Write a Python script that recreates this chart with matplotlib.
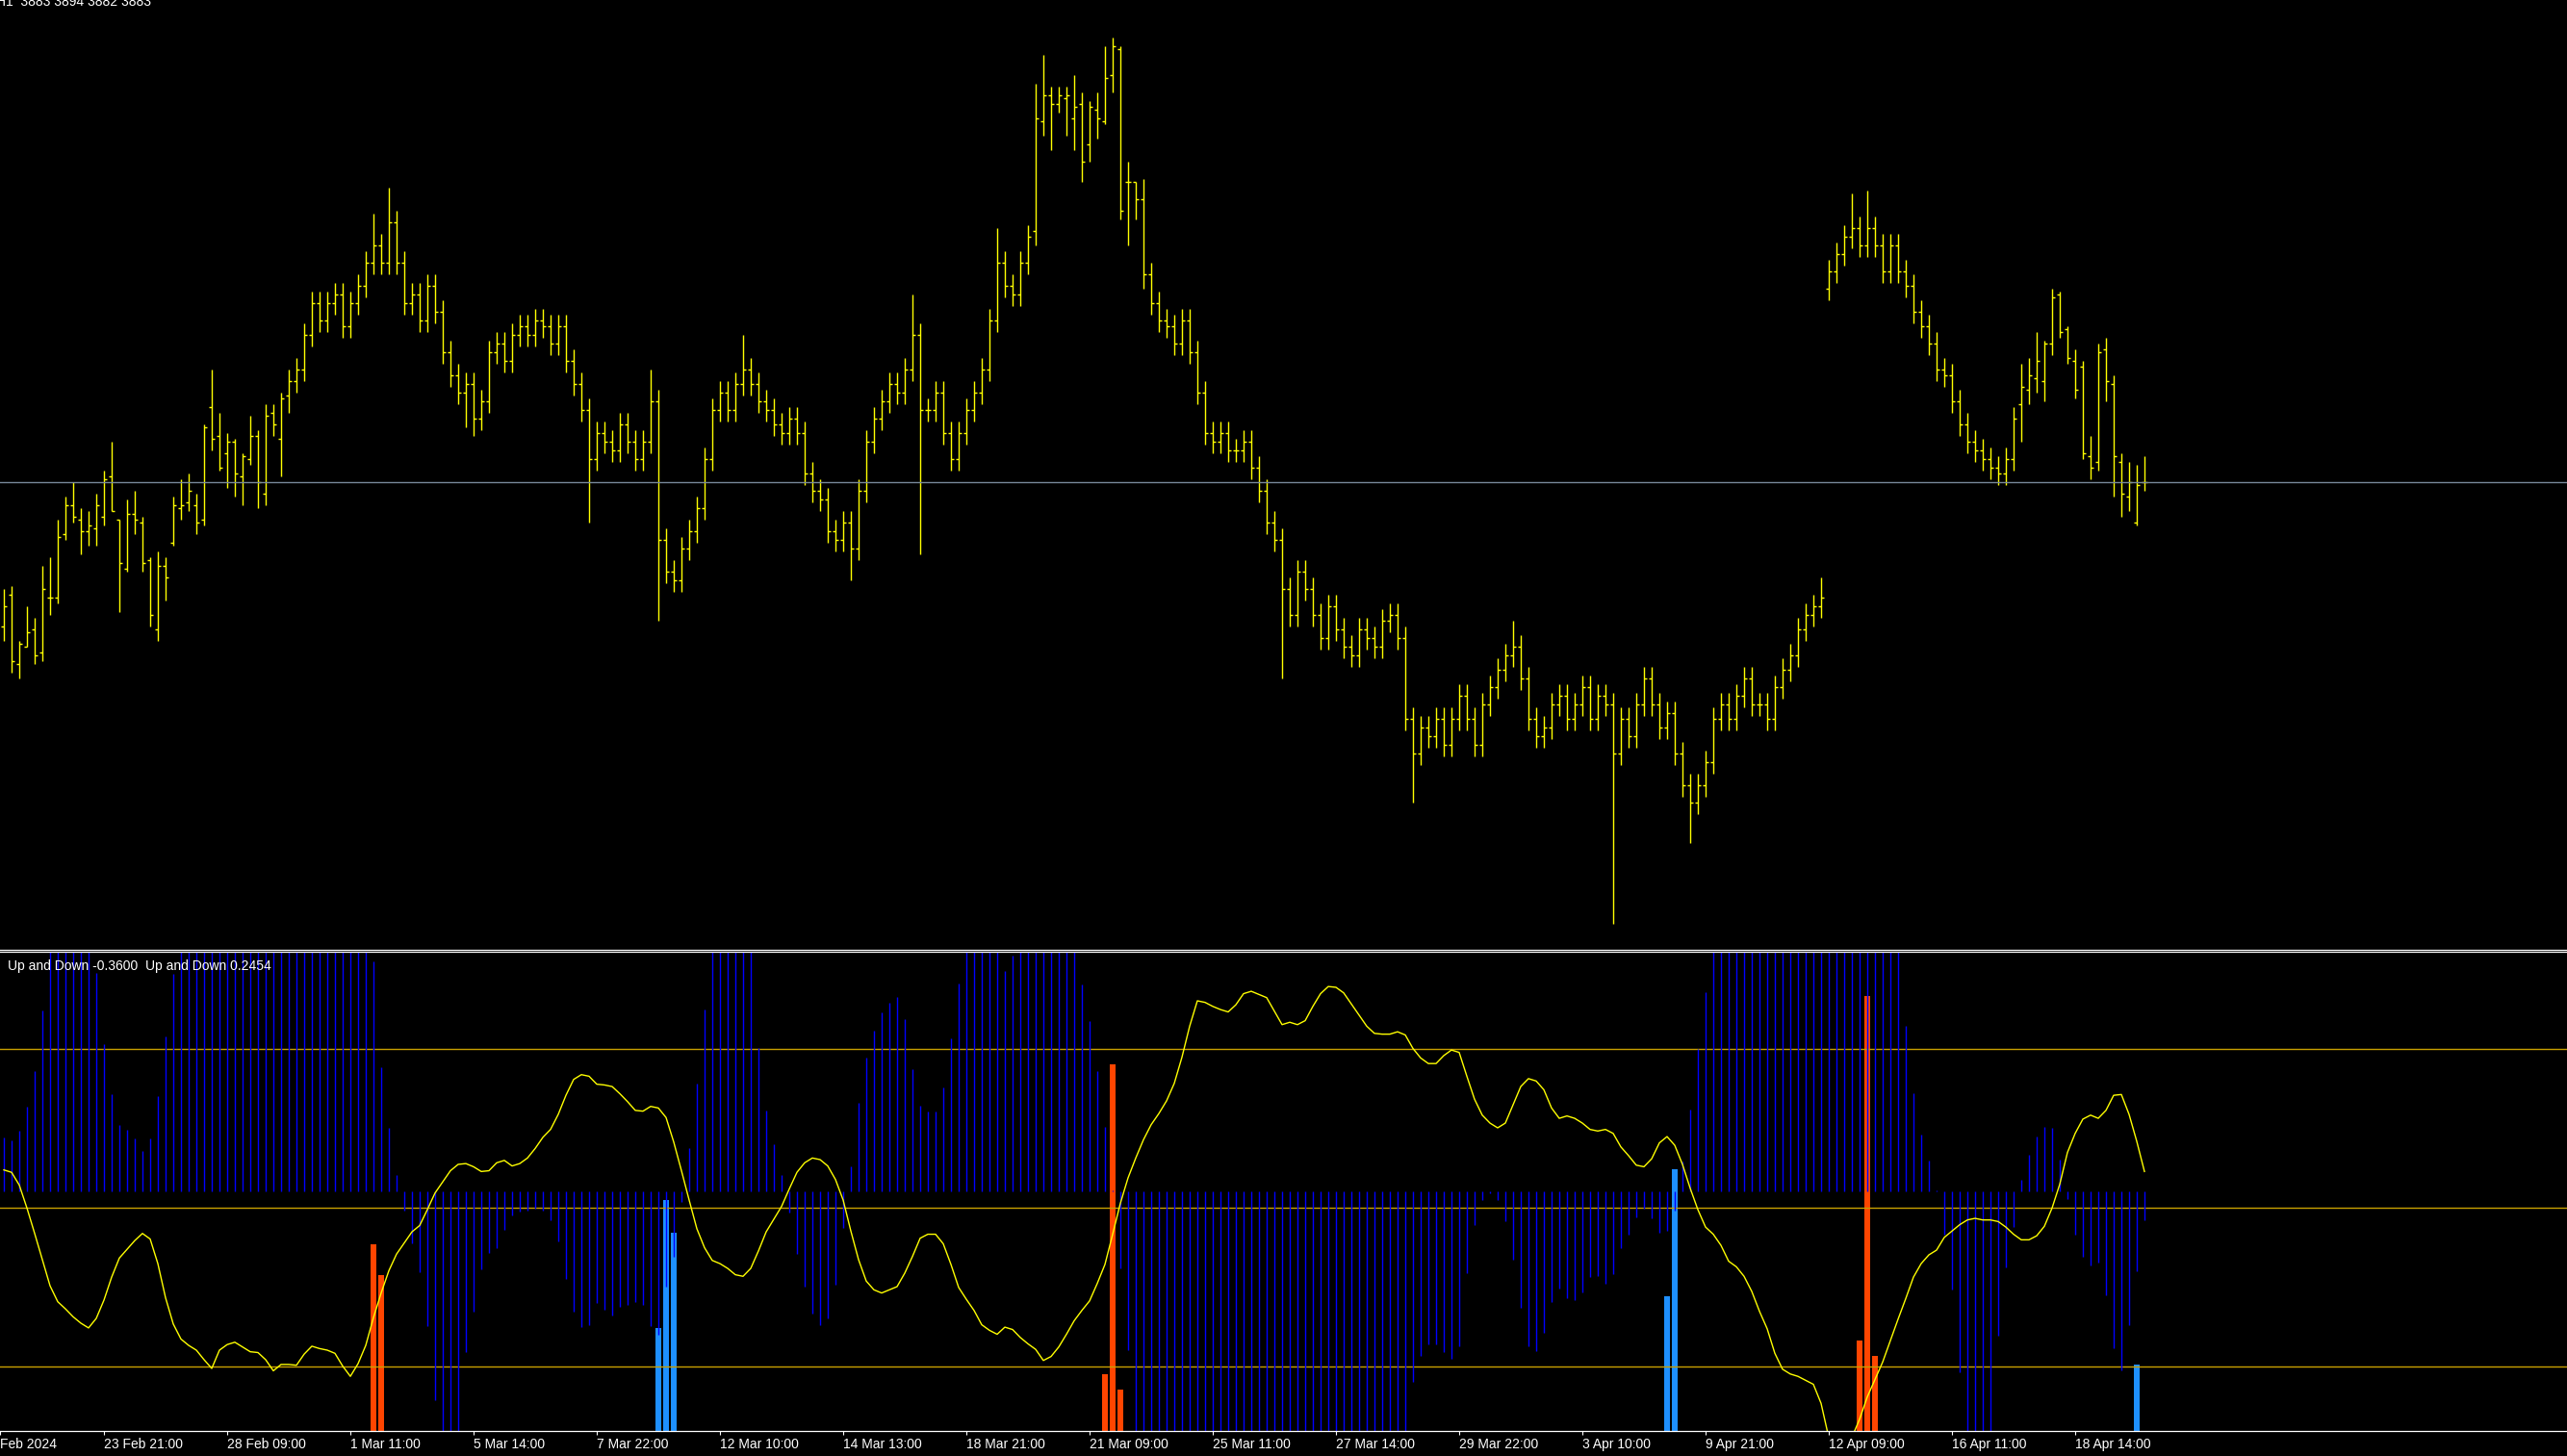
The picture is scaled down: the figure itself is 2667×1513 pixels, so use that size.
import matplotlib
matplotlib.use("Agg")
import numpy as np
import matplotlib.pyplot as plt

# price bars (one per hour bar, oldest first)
opens = [3833, 3844, 3820, 3826, 3832, 3824, 3843, 3843, 3865, 3875,
         3870, 3866, 3867, 3871, 3885, 3870, 3853, 3872, 3869, 3856,
         3832, 3854, 3862, 3874, 3876, 3875, 3870, 3909, 3899, 3893,
         3897, 3885, 3891, 3899, 3879, 3907, 3898, 3913, 3918, 3922,
         3934, 3945, 3939, 3945, 3948, 3937, 3945, 3951, 3959, 3965,
         3959, 3973, 3959, 3945, 3948, 3939, 3951, 3942, 3928, 3920,
         3914, 3917, 3905, 3911, 3928, 3931, 3925, 3934, 3937, 3934,
         3939, 3937, 3931, 3937, 3925, 3917, 3908, 3891, 3900, 3897,
         3894, 3903, 3897, 3891, 3897, 3911, 3863, 3852, 3849, 3860,
         3866, 3874, 3891, 3908, 3914, 3908, 3917, 3922, 3917, 3911,
         3908, 3903, 3900, 3905, 3900, 3886, 3880, 3877, 3866, 3863,
         3869, 3860, 3880, 3897, 3905, 3911, 3917, 3914, 3922, 3934,
         3908, 3908, 3914, 3900, 3891, 3900, 3908, 3914, 3922, 3939,
         3959, 3951, 3948, 3959, 3970, 4008, 4017, 4014, 4016, 4009,
         4014, 4000, 4012, 4008, 4024, 4033, 3987, 3987, 3981, 3955,
         3945, 3939, 3937, 3931, 3939, 3928, 3914, 3900, 3897, 3900,
         3894, 3894, 3897, 3888, 3880, 3869, 3863, 3846, 3837, 3852,
         3846, 3837, 3829, 3840, 3832, 3826, 3823, 3832, 3829, 3826,
         3835, 3837, 3829, 3801, 3789, 3798, 3795, 3801, 3792, 3801,
         3809, 3801, 3792, 3806, 3812, 3818, 3823, 3826, 3815, 3801,
         3795, 3798, 3806, 3809, 3801, 3806, 3812, 3801, 3809, 3806,
         3789, 3801, 3795, 3806, 3815, 3806, 3798, 3803, 3789, 3778,
         3772, 3778, 3786, 3801, 3806, 3801, 3809, 3815, 3806, 3806,
         3801, 3812, 3818, 3823, 3832, 3837, 3840, 3950, 3956, 3962,
         3968, 3971, 3965, 3971, 3965, 3956, 3965, 3956, 3951, 3942,
         3937, 3931, 3922, 3920, 3911, 3903, 3897, 3894, 3891, 3888,
         3886, 3891, 3910, 3915, 3919, 3918, 3931, 3948, 3936, 3925,
         3923, 3892, 3890, 3929, 3917, 3890, 3878, 3869, 3883]
highs = [3846, 3847, 3828, 3840, 3836, 3854, 3857, 3870, 3878, 3883,
         3874, 3873, 3879, 3887, 3897, 3870, 3877, 3880, 3871, 3857,
         3859, 3857, 3878, 3884, 3886, 3879, 3903, 3922, 3907, 3900,
         3898, 3893, 3906, 3901, 3910, 3910, 3914, 3922, 3926, 3938,
         3949, 3949, 3949, 3952, 3952, 3949, 3955, 3963, 3976, 3969,
         3985, 3977, 3963, 3952, 3952, 3955, 3955, 3946, 3932, 3924,
         3921, 3921, 3915, 3932, 3935, 3935, 3938, 3941, 3941, 3943,
         3943, 3941, 3941, 3941, 3929, 3921, 3912, 3904, 3904, 3901,
         3907, 3907, 3901, 3901, 3922, 3915, 3867, 3856, 3864, 3870,
         3878, 3895, 3912, 3918, 3918, 3921, 3934, 3926, 3921, 3915,
         3912, 3907, 3909, 3909, 3904, 3890, 3884, 3881, 3870, 3873,
         3873, 3884, 3901, 3909, 3915, 3921, 3921, 3926, 3948, 3938,
         3912, 3918, 3918, 3904, 3904, 3912, 3918, 3926, 3943, 3971,
         3963, 3955, 3963, 3972, 4021, 4031, 4020, 4020, 4020, 4024,
         4018, 4015, 4018, 4034, 4037, 4034, 3994, 3987, 3988, 3959,
         3949, 3943, 3941, 3943, 3943, 3932, 3918, 3904, 3904, 3904,
         3898, 3901, 3901, 3892, 3884, 3873, 3867, 3850, 3856, 3856,
         3850, 3841, 3844, 3844, 3836, 3830, 3836, 3836, 3833, 3839,
         3841, 3841, 3833, 3805, 3802, 3802, 3805, 3805, 3805, 3813,
         3813, 3805, 3810, 3816, 3822, 3827, 3835, 3830, 3819, 3805,
         3802, 3810, 3813, 3813, 3810, 3816, 3816, 3813, 3813, 3810,
         3805, 3805, 3810, 3819, 3819, 3810, 3807, 3807, 3793, 3782,
         3782, 3790, 3805, 3810, 3810, 3813, 3819, 3819, 3810, 3810,
         3816, 3822, 3827, 3836, 3841, 3844, 3850, 3960, 3966, 3972,
         3983, 3975, 3984, 3975, 3969, 3969, 3969, 3960, 3955, 3946,
         3941, 3935, 3926, 3924, 3915, 3907, 3901, 3898, 3895, 3892,
         3895, 3909, 3924, 3926, 3935, 3932, 3950, 3949, 3937, 3929,
         3925, 3899, 3931, 3933, 3920, 3893, 3890, 3889, 3892]
lows = [3828, 3817, 3815, 3826, 3820, 3821, 3837, 3841, 3863, 3869,
        3858, 3861, 3861, 3868, 3873, 3838, 3852, 3865, 3852, 3833,
        3828, 3842, 3861, 3870, 3873, 3865, 3868, 3894, 3887, 3881,
        3878, 3875, 3889, 3874, 3875, 3899, 3885, 3907, 3914, 3918,
        3930, 3935, 3935, 3941, 3933, 3933, 3941, 3947, 3955, 3955,
        3955, 3955, 3941, 3941, 3935, 3935, 3938, 3924, 3916, 3910,
        3902, 3899, 3901, 3907, 3924, 3921, 3921, 3930, 3930, 3930,
        3933, 3927, 3927, 3921, 3913, 3904, 3869, 3887, 3893, 3890,
        3890, 3893, 3887, 3887, 3893, 3835, 3848, 3845, 3845, 3856,
        3862, 3870, 3887, 3904, 3904, 3904, 3913, 3913, 3907, 3904,
        3899, 3896, 3896, 3896, 3882, 3876, 3873, 3862, 3859, 3859,
        3849, 3856, 3876, 3893, 3901, 3907, 3910, 3910, 3918, 3858,
        3904, 3904, 3896, 3887, 3887, 3896, 3904, 3910, 3918, 3935,
        3947, 3944, 3944, 3955, 3965, 4003, 3998, 4011, 4003, 3998,
        3987, 3994, 4002, 4007, 4018, 3974, 3965, 3974, 3950, 3941,
        3935, 3933, 3927, 3927, 3924, 3910, 3896, 3893, 3893, 3890,
        3890, 3890, 3884, 3876, 3865, 3859, 3815, 3833, 3833, 3842,
        3833, 3825, 3825, 3828, 3822, 3819, 3819, 3825, 3822, 3822,
        3831, 3825, 3797, 3772, 3785, 3791, 3791, 3788, 3788, 3797,
        3797, 3788, 3788, 3802, 3808, 3814, 3819, 3811, 3797, 3791,
        3791, 3794, 3802, 3797, 3797, 3802, 3797, 3797, 3802, 3730,
        3785, 3791, 3791, 3802, 3802, 3794, 3794, 3785, 3774, 3758,
        3768, 3774, 3782, 3797, 3797, 3797, 3805, 3802, 3802, 3797,
        3797, 3808, 3814, 3819, 3828, 3833, 3836, 3946, 3952, 3958,
        3964, 3961, 3961, 3961, 3952, 3952, 3952, 3947, 3938, 3933,
        3927, 3918, 3916, 3907, 3899, 3893, 3890, 3887, 3884, 3882,
        3882, 3887, 3897, 3910, 3914, 3911, 3927, 3933, 3924, 3912,
        3891, 3884, 3887, 3911, 3878, 3871, 3873, 3868, 3880]
closes = [3840, 3821, 3827, 3831, 3823, 3846, 3843, 3864, 3875, 3871,
          3866, 3868, 3875, 3884, 3873, 3855, 3872, 3870, 3855, 3837,
          3854, 3850, 3875, 3875, 3880, 3869, 3902, 3898, 3888, 3897,
          3886, 3892, 3899, 3883, 3906, 3903, 3912, 3918, 3922, 3934,
          3945, 3939, 3945, 3948, 3937, 3945, 3951, 3959, 3965, 3959,
          3973, 3959, 3945, 3948, 3939, 3951, 3942, 3928, 3920, 3914,
          3917, 3905, 3911, 3928, 3931, 3925, 3934, 3937, 3934, 3939,
          3937, 3931, 3937, 3925, 3917, 3908, 3891, 3900, 3897, 3894,
          3903, 3897, 3891, 3897, 3911, 3863, 3852, 3849, 3860, 3866,
          3874, 3891, 3908, 3914, 3908, 3917, 3922, 3917, 3911, 3908,
          3903, 3900, 3905, 3900, 3886, 3880, 3877, 3866, 3863, 3869,
          3860, 3880, 3897, 3905, 3911, 3917, 3914, 3922, 3934, 3908,
          3908, 3914, 3900, 3891, 3900, 3908, 3914, 3922, 3939, 3959,
          3951, 3948, 3959, 3968, 4009, 4017, 4014, 4017, 4017, 4013,
          3994, 4013, 4009, 4023, 4034, 3977, 3987, 3981, 3955, 3945,
          3939, 3937, 3931, 3939, 3928, 3914, 3900, 3897, 3900, 3894,
          3894, 3897, 3888, 3880, 3869, 3863, 3846, 3837, 3852, 3846,
          3837, 3829, 3840, 3832, 3826, 3823, 3832, 3829, 3826, 3835,
          3837, 3829, 3801, 3789, 3798, 3795, 3801, 3792, 3801, 3809,
          3801, 3792, 3806, 3812, 3818, 3823, 3826, 3815, 3801, 3795,
          3798, 3806, 3809, 3801, 3806, 3812, 3801, 3809, 3806, 3789,
          3801, 3795, 3806, 3815, 3806, 3798, 3803, 3789, 3778, 3772,
          3778, 3786, 3801, 3806, 3801, 3809, 3815, 3806, 3806, 3801,
          3812, 3818, 3823, 3832, 3837, 3840, 3843, 3956, 3962, 3968,
          3971, 3965, 3971, 3965, 3956, 3965, 3956, 3951, 3942, 3937,
          3931, 3922, 3920, 3911, 3903, 3897, 3894, 3891, 3888, 3886,
          3891, 3905, 3916, 3920, 3925, 3931, 3947, 3935, 3926, 3915,
          3893, 3888, 3928, 3918, 3892, 3879, 3883, 3882, 3883]

# "Up and Down" indicator: histogram buffer and signal line
updown_hist = [0.68, 0.64, 0.76, 1.07, 1.51, 2.28, 3.5, 3.5, 3.5, 3.5,
               3.5, 3.5, 2.75, 1.85, 1.23, 0.84, 0.77, 0.67, 0.51, 0.67,
               1.20, 1.95, 2.74, 3.5, 3.5, 3.5, 3.5, 3.5, 3.5, 3.5,
               3.5, 3.5, 3.5, 3.5, 3.5, 3.5, 3.5, 3.5, 3.5, 3.5,
               3.5, 3.5, 3.5, 3.5, 3.5, 3.5, 3.5, 3.5, 2.90, 1.56,
               0.80, 0.20, -0.24, -0.65, -1.02, -1.70, -2.63, -3.5, -3.5, -3.5,
               -2.03, -1.51, -0.98, -0.77, -0.71, -0.49, -0.30, -0.26, -0.24, -0.22,
               -0.24, -0.36, -0.63, -1.10, -1.52, -1.71, -1.68, -1.41, -1.49, -1.56,
               -1.46, -1.43, -1.39, -1.43, -1.70, -1.80, -1.20, -0.83, -0.13, 0.55,
               1.36, 2.29, 3.5, 3.5, 3.5, 3.5, 3.5, 3.5, 1.80, 1.02,
               0.59, 0.20, -0.27, -0.79, -1.20, -1.54, -1.68, -1.60, -1.17, -0.46,
               0.32, 1.12, 1.68, 2.02, 2.25, 2.38, 2.45, 2.17, 1.54, 1.08,
               1.01, 1.01, 1.31, 1.93, 2.62, 3.5, 3.5, 3.5, 3.5, 3.5,
               2.78, 2.97, 3.5, 3.5, 3.5, 3.5, 3.5, 3.5, 3.5, 3.5,
               2.61, 2.14, 1.52, 0.81, 0.01, -0.97, -2.00, -3.5, -3.5, -3.5,
               -3.5, -3.5, -3.5, -3.5, -3.5, -3.5, -3.5, -3.5, -3.5, -3.5,
               -3.5, -3.5, -3.5, -3.5, -3.5, -3.5, -3.5, -3.5, -3.5, -3.5,
               -3.5, -3.5, -3.5, -3.5, -3.5, -3.5, -3.5, -3.5, -3.5, -3.5,
               -3.5, -3.5, -3.5, -2.40, -2.07, -1.93, -1.93, -2.03, -2.11, -1.95,
               -1.03, -0.43, -0.11, -0.03, -0.11, -0.38, -0.86, -1.47, -1.95, -2.01,
               -1.78, -1.39, -1.23, -1.35, -1.37, -1.27, -1.08, -1.07, -1.16, -1.04,
               -0.72, -0.55, -0.33, -0.22, -0.34, -0.52, -0.50, -0.24, 0.38, 1.03,
               1.79, 2.51, 3.5, 3.5, 3.5, 3.5, 3.5, 3.5, 3.5, 3.5,
               3.5, 3.5, 3.5, 3.5, 3.5, 3.5, 3.5, 3.5, 3.5, 3.5,
               3.5, 3.5, 3.5, 3.5, 3.5, 3.5, 3.5, 2.09, 1.24, 0.72,
               0.39, 0.01, -0.55, -1.24, -2.28, -3.5, -3.5, -3.5, -3.5, -1.82,
               -0.96, -0.45, 0.15, 0.46, 0.69, 0.81, 0.80, 0.40, -0.10, -0.54,
               -0.83, -0.93, -0.90, -1.31, -1.98, -2.26, -1.69, -1.00, -0.36]
updown_line = [0.27, 0.24, 0.08, -0.21, -0.53, -0.86, -1.19, -1.39, -1.48, -1.58,
               -1.66, -1.72, -1.60, -1.37, -1.08, -0.84, -0.73, -0.62, -0.53, -0.60,
               -0.91, -1.34, -1.67, -1.86, -1.94, -2.00, -2.12, -2.23, -2.00, -1.93,
               -1.90, -1.96, -2.02, -2.03, -2.12, -2.26, -2.18, -2.18, -2.19, -2.05,
               -1.95, -1.98, -2.00, -2.04, -2.20, -2.33, -2.17, -1.94, -1.59, -1.28,
               -1.00, -0.79, -0.65, -0.51, -0.43, -0.23, -0.02, 0.12, 0.26, 0.34,
               0.35, 0.31, 0.25, 0.26, 0.36, 0.39, 0.32, 0.35, 0.42, 0.54,
               0.68, 0.78, 0.97, 1.21, 1.41, 1.47, 1.45, 1.35, 1.34, 1.32,
               1.23, 1.13, 1.02, 1.01, 1.07, 1.05, 0.93, 0.62, 0.26, -0.11,
               -0.47, -0.71, -0.87, -0.91, -0.97, -1.05, -1.07, -0.97, -0.75, -0.51,
               -0.35, -0.19, 0.03, 0.24, 0.36, 0.42, 0.40, 0.32, 0.15, -0.11,
               -0.50, -0.86, -1.13, -1.24, -1.28, -1.24, -1.20, -1.03, -0.82, -0.59,
               -0.54, -0.54, -0.66, -0.92, -1.21, -1.36, -1.50, -1.68, -1.75, -1.80,
               -1.71, -1.74, -1.84, -1.92, -1.99, -2.13, -2.08, -1.96, -1.80, -1.63,
               -1.50, -1.38, -1.16, -0.92, -0.54, -0.15, 0.17, 0.42, 0.65, 0.84,
               0.98, 1.14, 1.36, 1.69, 2.08, 2.40, 2.38, 2.33, 2.29, 2.26,
               2.35, 2.49, 2.52, 2.48, 2.44, 2.27, 2.10, 2.13, 2.10, 2.15,
               2.33, 2.49, 2.58, 2.57, 2.50, 2.36, 2.22, 2.08, 1.99, 1.98,
               1.98, 2.01, 1.97, 1.80, 1.68, 1.61, 1.61, 1.71, 1.78, 1.75,
               1.45, 1.16, 0.96, 0.86, 0.80, 0.86, 1.09, 1.32, 1.42, 1.39,
               1.28, 1.05, 0.92, 0.95, 0.92, 0.86, 0.78, 0.76, 0.78, 0.73,
               0.56, 0.45, 0.33, 0.31, 0.41, 0.61, 0.69, 0.58, 0.34, 0.04,
               -0.23, -0.45, -0.54, -0.68, -0.88, -0.95, -1.07, -1.26, -1.51, -1.73,
               -2.04, -2.24, -2.30, -2.33, -2.38, -2.43, -2.67, -3.10, -3.45, -3.45,
               -3.10, -2.87, -2.59, -2.37, -2.15, -1.88, -1.61, -1.35, -1.08, -0.91,
               -0.80, -0.74, -0.58, -0.50, -0.42, -0.36, -0.34, -0.36, -0.36, -0.38,
               -0.45, -0.54, -0.61, -0.61, -0.56, -0.44, -0.21, 0.09, 0.49, 0.73,
               0.91, 0.96, 0.92, 1.02, 1.21, 1.22, 0.97, 0.63, 0.25]

# signal bars drawn up from the bottom of the window
sell_bars = [48, 49, 143, 144, 145, 241, 242, 243]
sell_tops = [-0.67, -1.05, -2.30, 1.60, -2.50, -1.88, 2.46, -2.07]
buy_bars = [85, 86, 87, 216, 217, 277]
buy_tops = [-1.72, -0.11, -0.52, -1.32, 0.28, -2.18]
levels = [1.79, -0.21, -2.21]

tick_bars = [13, 29, 45, 61, 77, 93, 109, 125, 141, 157, 173, 189, 205, 221, 237, 253, 269]
tick_labels = ["23 Feb 21:00", "28 Feb 09:00", "1 Mar 11:00", "5 Mar 14:00", "7 Mar 22:00",
               "12 Mar 10:00", "14 Mar 13:00", "18 Mar 21:00", "21 Mar 09:00", "25 Mar 11:00",
               "27 Mar 14:00", "29 Mar 22:00", "3 Apr 10:00", "9 Apr 21:00", "12 Apr 09:00",
               "16 Apr 11:00", "18 Apr 14:00"]

n = len(closes)
for name, arr in [("opens", opens), ("highs", highs), ("lows", lows),
                  ("hist", updown_hist), ("line", updown_line)]:
    if len(arr) != n:
        raise ValueError(f"{name} has {len(arr)} values, closes has {n}")

plt.rcParams['font.family'] = ['Liberation Sans', 'DejaVu Sans']

W, H = 2667, 1513
fig = plt.figure(figsize=(W / 100, H / 100), dpi=100, facecolor='black')

# bar i sits at pixel 4 + 8*i
x_left = (0 - 4) / 8.0
x_right = (W - 4) / 8.0
x = np.arange(n)

# main price window
ax = fig.add_axes([0, 1 - 987 / H, 1, 987 / H])
ax.set_facecolor('black')
ax.set_xlim(x_left, x_right)
ax.set_ylim(3721, 4050)
ax.vlines(x, lows, highs, color='#ffff00', lw=1.0)
ax.hlines(opens, x - 0.4, x, color='#ffff00', lw=1.0)
ax.hlines(closes, x, x + 0.4, color='#ffff00', lw=1.0)
ax.axhline(closes[-1], color='#778899', lw=1.0)
ax.set_xticks([])
ax.set_yticks([])
for side in ['top', 'left', 'right']:
    ax.spines[side].set_visible(False)
ax.spines['bottom'].set_color('white')
ax.spines['bottom'].set_linewidth(0.9)

# indicator window
ax2 = fig.add_axes([0, 1 - 1487 / H, 1, 498 / H])
ax2.set_facecolor('black')
ax2.set_xlim(x_left, x_right)
ax2.set_ylim(-3.018, 3.018)
for lv in levels:
    ax2.axhline(lv, color='#c8a000', lw=1.0)
ax2.vlines(x, 0, updown_hist, color='#0000ff', lw=1.0)
ax2.bar(sell_bars, np.array(sell_tops) + 3.5, bottom=-3.5, width=0.85,
        color='#ff4500', linewidth=0)
ax2.bar(buy_bars, np.array(buy_tops) + 3.5, bottom=-3.5, width=0.85,
        color='#1e90ff', linewidth=0)
ax2.plot(x, updown_line, color='#ffff00', lw=1.0)

ax2.set_yticks([])
ax2.set_xticks([x_left + 0.01] + tick_bars)
ax2.set_xticklabels(["Feb 2024"] + tick_labels, ha='left')
ax2.tick_params(axis='x', colors='white', direction='out', length=3, width=0.8,
                pad=2, labelsize=10)
for side in ['left', 'right']:
    ax2.spines[side].set_visible(False)
for side in ['top', 'bottom']:
    ax2.spines[side].set_color('white')
    ax2.spines[side].set_linewidth(0.9)

fig.text(-3.5 / W, 1 - 6 / H, "H1  3883 3894 3882 3883", color='white',
         fontsize=10, va='baseline', ha='left')
fig.text(8 / W, 1 - 1004 / H, "Up and Down -0.3600  Up and Down 0.2454",
         color='white', fontsize=10, va='center', ha='left')

fig.savefig("out.png", dpi=100, facecolor='black')
